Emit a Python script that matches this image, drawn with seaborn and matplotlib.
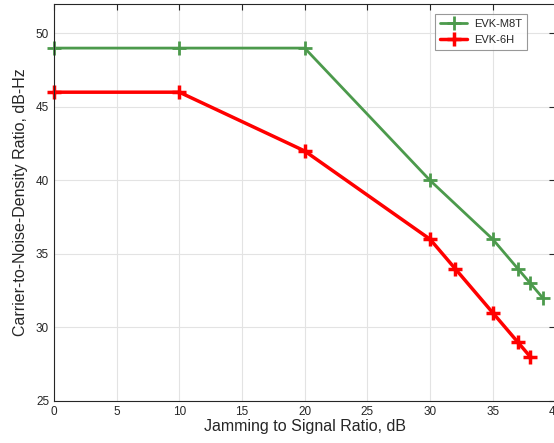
import matplotlib
matplotlib.use("Agg")
import matplotlib.pyplot as plt
import seaborn as sns
import pandas as pd

# data
m8t_x = [0, 10, 20, 30, 35, 37, 38, 39]
m8t_y = [49, 49, 49, 40, 36, 34, 33, 32]
h6_x = [0, 10, 20, 30, 32, 35, 37, 38]
h6_y = [46, 46, 42, 36, 34, 31, 29, 28]

green = '#4c9a4c'
red = '#ff0000'

sns.set_style("white")
plt.rcParams['font.family'] = ['Liberation Sans', 'DejaVu Sans']

fig = plt.figure(figsize=(5.54, 4.43), dpi=100)
ax = fig.add_axes([0.0975, 0.095, 0.905, 0.896])

df1 = pd.DataFrame({'x': m8t_x, 'y': m8t_y})
df2 = pd.DataFrame({'x': h6_x, 'y': h6_y})

sns.lineplot(data=df1, x='x', y='y', ax=ax, color=green, linewidth=2,
             marker='+', markersize=10, markeredgewidth=2,
             markeredgecolor=green, label='EVK-M8T', clip_on=False)
sns.lineplot(data=df2, x='x', y='y', ax=ax, color=red, linewidth=2.5,
             marker='+', markersize=10, markeredgewidth=2.5,
             markeredgecolor=red, label='EVK-6H', clip_on=False)

ax.set_xlim(0, 40)
ax.set_ylim(25, 52)
ax.set_xticks(range(0, 41, 5))
ax.set_yticks(range(25, 51, 5))
ax.grid(True, color='#e3e3e3', linewidth=0.8)
ax.tick_params(direction='in', length=4, labelsize=8.5, colors='#262626',
               top=True, right=True)
for s in ax.spines.values():
    s.set_color('#262626')
    s.set_linewidth(0.8)

ax.set_xlabel('Jamming to Signal Ratio, dB', fontsize=11.5, color='#262626', labelpad=1)
ax.set_ylabel('Carrier-to-Noise-Density Ratio, dB-Hz', fontsize=11.5, color='#262626', labelpad=6)

leg = ax.legend(loc='upper right', bbox_to_anchor=(0.955, 0.99), fontsize=8,
                frameon=True, fancybox=False, edgecolor='#7f7f7f',
                handlelength=2.4, handletextpad=0.6, borderpad=0.5)
leg.get_frame().set_linewidth(0.8)

fig.savefig('out.png', dpi=100)
